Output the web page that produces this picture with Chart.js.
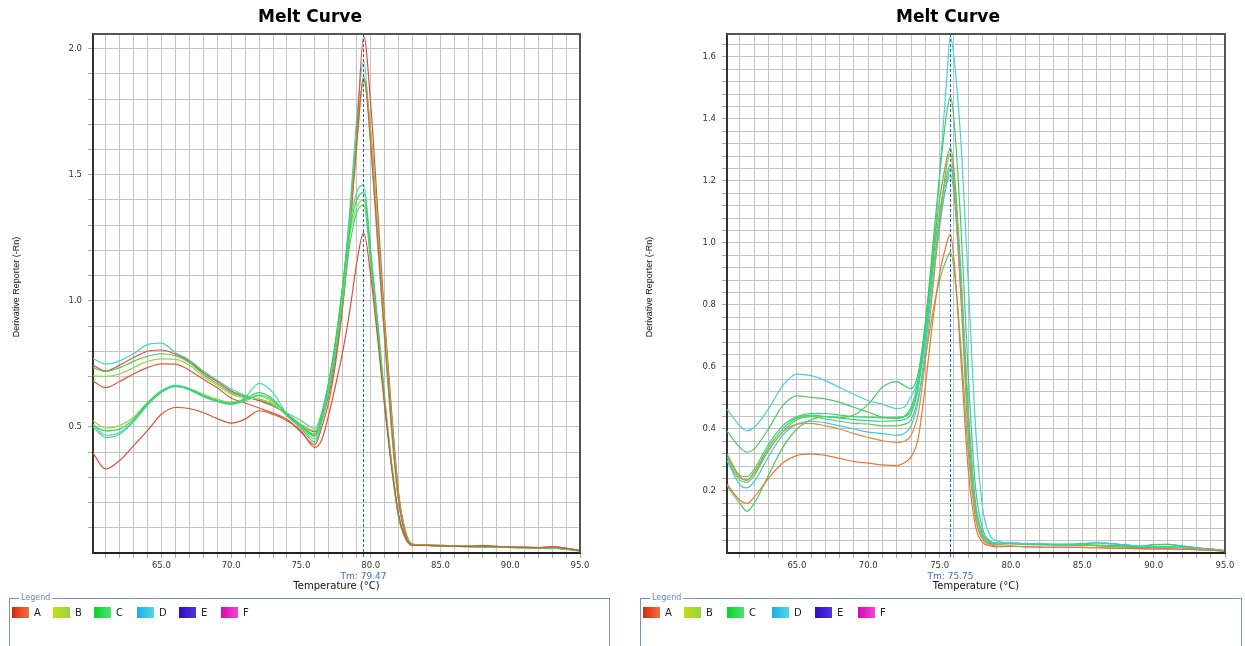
<!DOCTYPE html>
<html><head><meta charset="utf-8">
<script src="https://cdn.jsdelivr.net/npm/chart.js@4"></script>
<style>
html,body{margin:0;padding:0;background:#fff;width:1245px;height:646px;overflow:hidden;font-family:"DejaVu Sans",sans-serif;}
canvas{position:absolute;top:0;}
#cl{left:0;} #cr{left:632px;}
.legend{position:absolute;top:598px;height:70px;border:1px solid #7b93b8;}
.legend .cap{position:absolute;top:-6px;left:9px;background:#fff;padding:0 2px;font-size:8px;color:#6a86b0;line-height:10px;}
.item{position:absolute;top:8px;height:11px;font-size:10px;line-height:11px;color:#222;white-space:nowrap;}
.sw{display:inline-block;width:17px;height:11px;vertical-align:top;margin-right:5px;}
</style></head>
<body>
<canvas id="cl" width="622" height="596"></canvas>
<canvas id="cr" width="613" height="596"></canvas>
<div class="legend" id="lgL" style="left:9px;width:599px;"><span class="cap">Legend</span></div>
<div class="legend" id="lgR" style="left:640px;width:600px;"><span class="cap">Legend</span></div>
<script>
// ---------- DATA ----------
const chartTitle = 'Melt Curve';
const xAxisTitle = 'Temperature (°C)';
const yAxisTitle = 'Derivative Reporter (-Rn)';
const legendLabels = ['A','B','C','D','E','F'];
const xTickLabels = ['65.0','70.0','75.0','80.0','85.0','90.0','95.0'];
const yTickLabelsLeft = ['0.5','1.0','1.5','2.0'];
const yTickLabelsRight = ['0.2','0.4','0.6','0.8','1.0','1.2','1.4','1.6'];
const tmLeft = 79.47, tmRight = 75.75;

const tempsLeft = [60.1,61,62,63,64,65,66,67,68,69,70,71,72,73,74,75,76,76.5,77,77.5,78,78.5,79,79.5,80,80.5,81,81.5,82,82.5,83,84,85,86,87,88,89,90,91,92,93,94,95];

const leftCyan1  = [0.771,0.749,0.762,0.790,0.826,0.832,0.795,0.765,0.722,0.685,0.650,0.625,0.603,0.582,0.555,0.525,0.494,0.56,0.68,0.84,1.06,1.36,1.72,1.95,1.62,1.22,0.84,0.48,0.20,0.070,0.032,0.030,0.029,0.027,0.025,0.024,0.023,0.022,0.021,0.020,0.019,0.016,0.009];
const leftRed1   = [0.745,0.722,0.745,0.775,0.800,0.805,0.788,0.760,0.716,0.680,0.643,0.620,0.605,0.585,0.550,0.510,0.480,0.53,0.63,0.78,0.99,1.29,1.66,2.05,1.78,1.36,0.93,0.56,0.24,0.085,0.035,0.030,0.028,0.027,0.026,0.028,0.026,0.023,0.022,0.021,0.024,0.018,0.010];
const leftGreen1 = [0.735,0.720,0.735,0.760,0.780,0.790,0.782,0.755,0.709,0.672,0.637,0.620,0.610,0.590,0.550,0.505,0.470,0.55,0.67,0.83,1.05,1.33,1.65,1.88,1.68,1.30,0.90,0.54,0.23,0.080,0.035,0.031,0.030,0.028,0.027,0.025,0.024,0.022,0.023,0.021,0.020,0.015,0.008];
const leftYG1    = [0.702,0.700,0.710,0.735,0.760,0.770,0.768,0.745,0.700,0.665,0.630,0.615,0.610,0.590,0.545,0.500,0.462,0.54,0.65,0.81,1.02,1.30,1.62,1.87,1.66,1.28,0.88,0.52,0.22,0.080,0.034,0.030,0.029,0.027,0.025,0.024,0.023,0.022,0.021,0.020,0.019,0.016,0.009];
const leftRed2   = [0.682,0.656,0.680,0.710,0.735,0.750,0.749,0.725,0.689,0.655,0.615,0.595,0.575,0.555,0.530,0.480,0.430,0.50,0.60,0.76,0.98,1.27,1.62,1.89,1.62,1.24,0.86,0.50,0.21,0.075,0.033,0.030,0.028,0.027,0.026,0.028,0.026,0.023,0.022,0.021,0.024,0.018,0.010];
const leftYG2    = [0.524,0.495,0.505,0.538,0.597,0.643,0.663,0.652,0.630,0.610,0.597,0.604,0.623,0.597,0.544,0.511,0.485,0.55,0.67,0.83,1.04,1.26,1.37,1.40,1.17,0.90,0.60,0.35,0.15,0.060,0.030,0.031,0.030,0.028,0.027,0.025,0.024,0.022,0.023,0.021,0.020,0.015,0.008];
const leftCyan2  = [0.511,0.467,0.478,0.524,0.590,0.643,0.665,0.652,0.626,0.604,0.590,0.617,0.673,0.636,0.550,0.498,0.452,0.54,0.67,0.84,1.06,1.30,1.43,1.46,1.20,0.92,0.62,0.36,0.15,0.060,0.030,0.030,0.029,0.027,0.025,0.024,0.023,0.022,0.021,0.020,0.019,0.016,0.009];
const leftGreen2 = [0.505,0.484,0.491,0.531,0.594,0.639,0.660,0.650,0.623,0.604,0.594,0.610,0.636,0.610,0.550,0.504,0.465,0.55,0.68,0.85,1.06,1.28,1.40,1.43,1.19,0.91,0.61,0.35,0.15,0.060,0.030,0.031,0.030,0.028,0.027,0.025,0.024,0.022,0.023,0.021,0.020,0.015,0.008];
const leftTeal2  = [0.500,0.458,0.471,0.520,0.586,0.636,0.663,0.647,0.620,0.600,0.590,0.604,0.626,0.604,0.544,0.494,0.440,0.52,0.64,0.80,1.00,1.22,1.35,1.38,1.15,0.88,0.59,0.34,0.14,0.055,0.030,0.030,0.029,0.027,0.025,0.024,0.023,0.022,0.021,0.020,0.019,0.016,0.009];
const leftRed3   = [0.396,0.333,0.366,0.425,0.485,0.550,0.577,0.573,0.557,0.533,0.515,0.531,0.564,0.550,0.524,0.485,0.419,0.45,0.55,0.67,0.80,0.96,1.15,1.27,1.10,0.85,0.58,0.34,0.15,0.060,0.030,0.030,0.028,0.027,0.026,0.028,0.026,0.023,0.022,0.021,0.024,0.018,0.010];

const tempsRight = [60.1,61,61.5,62,63,64,65,66,67,68,69,70,71,72,72.5,73,73.5,74,74.5,75,75.5,75.75,76,76.5,77,77.5,78,78.5,79,80,81,82,83,84,85,86,87,88,89,90,91,92,93,94,95];

const rightCyan1  = [0.464,0.410,0.394,0.405,0.464,0.540,0.577,0.572,0.556,0.534,0.512,0.491,0.480,0.466,0.470,0.505,0.56,0.68,0.92,1.22,1.53,1.666,1.60,1.32,0.88,0.42,0.15,0.060,0.040,0.032,0.030,0.029,0.028,0.028,0.030,0.033,0.030,0.026,0.022,0.020,0.020,0.018,0.015,0.012,0.007];
const rightGreen1 = [0.394,0.341,0.325,0.335,0.400,0.475,0.507,0.502,0.497,0.486,0.470,0.454,0.438,0.434,0.440,0.47,0.56,0.74,0.98,1.22,1.42,1.473,1.40,1.05,0.58,0.22,0.08,0.040,0.032,0.031,0.029,0.028,0.027,0.026,0.026,0.025,0.024,0.022,0.021,0.027,0.028,0.022,0.017,0.013,0.007];
const rightGreen2 = [0.217,0.160,0.135,0.160,0.250,0.340,0.400,0.430,0.440,0.437,0.445,0.480,0.535,0.553,0.540,0.530,0.58,0.74,0.95,1.14,1.27,1.307,1.24,0.90,0.45,0.16,0.06,0.035,0.030,0.031,0.029,0.028,0.027,0.026,0.026,0.025,0.024,0.022,0.021,0.027,0.028,0.022,0.017,0.013,0.007];
const rightGreen3 = [0.320,0.250,0.246,0.270,0.350,0.410,0.440,0.450,0.450,0.445,0.440,0.438,0.436,0.437,0.440,0.46,0.54,0.72,0.93,1.10,1.22,1.253,1.19,0.86,0.44,0.15,0.06,0.035,0.030,0.030,0.028,0.027,0.026,0.025,0.025,0.024,0.022,0.020,0.018,0.018,0.019,0.017,0.015,0.012,0.006];
const rightTeal1  = [0.310,0.245,0.235,0.260,0.340,0.400,0.435,0.445,0.440,0.435,0.430,0.427,0.425,0.427,0.430,0.45,0.53,0.70,0.90,1.07,1.19,1.220,1.16,0.83,0.42,0.15,0.06,0.035,0.030,0.032,0.030,0.029,0.028,0.028,0.030,0.033,0.030,0.026,0.022,0.020,0.020,0.018,0.015,0.012,0.007];
const rightGreen4 = [0.300,0.235,0.228,0.250,0.330,0.390,0.430,0.440,0.432,0.425,0.418,0.416,0.410,0.411,0.415,0.43,0.50,0.63,0.77,0.88,0.95,0.969,0.92,0.66,0.33,0.12,0.05,0.030,0.028,0.030,0.028,0.027,0.026,0.025,0.025,0.024,0.022,0.020,0.018,0.018,0.019,0.017,0.015,0.012,0.006];
const rightCyan2  = [0.298,0.220,0.210,0.230,0.310,0.380,0.415,0.425,0.420,0.410,0.400,0.390,0.385,0.380,0.385,0.41,0.49,0.66,0.87,1.05,1.20,1.240,1.19,0.88,0.47,0.17,0.065,0.038,0.032,0.032,0.030,0.029,0.028,0.028,0.030,0.033,0.030,0.026,0.022,0.020,0.020,0.018,0.015,0.012,0.007];
const rightOrange1= [0.310,0.245,0.235,0.260,0.330,0.390,0.415,0.418,0.410,0.400,0.385,0.373,0.362,0.357,0.360,0.38,0.45,0.62,0.84,1.07,1.25,1.290,1.20,0.82,0.38,0.12,0.045,0.028,0.022,0.022,0.020,0.019,0.018,0.018,0.018,0.017,0.016,0.015,0.014,0.013,0.013,0.012,0.011,0.009,0.005];
const rightOrange2= [0.222,0.170,0.160,0.180,0.240,0.290,0.315,0.320,0.315,0.305,0.295,0.290,0.284,0.282,0.290,0.31,0.37,0.54,0.74,0.90,1.00,1.028,0.95,0.62,0.27,0.09,0.035,0.024,0.020,0.022,0.020,0.019,0.018,0.018,0.018,0.017,0.016,0.015,0.014,0.013,0.013,0.012,0.011,0.009,0.005];

// ---------- STYLE ----------
const leftSeries = [
  [leftRed3,'#e0502e'],[leftTeal2,'#3cd48a'],[leftGreen2,'#3ccf5a'],[leftCyan2,'#3edca6'],[leftYG2,'#a6d444'],
  [leftRed2,'#e2583a'],[leftYG1,'#9ed24a'],[leftGreen1,'#44cc50'],[leftRed1,'#e4503c'],[leftCyan1,'#40d8c0']
];
const rightSeries = [
  [rightOrange2,'#e8763a'],[rightOrange1,'#e68a3e'],[rightCyan2,'#40c8dc'],[rightGreen4,'#58cc52'],[rightTeal1,'#38d48c'],
  [rightGreen3,'#3ed06c'],[rightGreen2,'#44cc58'],[rightGreen1,'#4cc866'],[rightCyan1,'#44d2dc']
];
const swatchGrad = ['#d42a0c,#f27046','#c6e00c,#96d24e','#0ccf2c,#4ee274','#1aaee6,#52d8ea','#2c0cc0,#5234e2','#d00cac,#f244d6'];

Chart.defaults.font.family = "'DejaVu Sans', sans-serif";
Chart.defaults.color = '#333';

const decor = {
  id: 'decor',
  afterDatasetsDraw(chart, args, o) {
    const {ctx, chartArea: a, scales: {x}} = chart;
    ctx.save();
    // frame top/right
    ctx.strokeStyle = '#555'; ctx.lineWidth = 2;
    ctx.beginPath();
    ctx.moveTo(a.left, a.top); ctx.lineTo(a.right, a.top); ctx.lineTo(a.right, a.bottom);
    ctx.stroke();
    // Tm line
    const px = Math.round(x.getPixelForValue(o.tm)) + 0.5;
    ctx.strokeStyle = '#1f62e0'; ctx.lineWidth = 1; ctx.setLineDash([3,2]);
    ctx.beginPath(); ctx.moveTo(px, a.top); ctx.lineTo(px, a.bottom + 6); ctx.stroke();
    ctx.setLineDash([]);
    ctx.fillStyle = '#3a6cc4'; ctx.font = "9px 'DejaVu Sans'";
    ctx.textAlign = 'center'; ctx.textBaseline = 'middle';
    ctx.fillText('Tm: ' + o.tm.toFixed(2), px, 577);
    // y axis title
    ctx.save();
    ctx.translate(o.yTitleX, 287); ctx.rotate(-Math.PI / 2);
    ctx.fillStyle = '#111'; ctx.font = "9px 'Liberation Sans'";
    ctx.fillText(yAxisTitle, 0, 0);
    ctx.restore();
    // title
    ctx.fillStyle = '#000'; ctx.font = "bold 17px 'DejaVu Sans'";
    ctx.textBaseline = 'alphabetic';
    ctx.fillText(chartTitle, o.titleX, 22);
    ctx.restore();
  }
};

function build(id, temps, series, cfg) {
  const datasets = series.map(([vals, col]) => ({
    data: temps.map((t, i) => ({x: t, y: vals[i]})),
    borderColor: col, borderWidth: 1.2, pointRadius: 0, fill: false,
    cubicInterpolationMode: 'monotone'
  }));
  const grid = {color: '#c4c4c4', lineWidth: 1, tickLength: 5, tickColor: '#aaa', drawTicks: true};
  new Chart(document.getElementById(id), {
    type: 'line',
    data: {datasets},
    options: {
      responsive: false, animation: false, devicePixelRatio: 1,
      layout: {padding: {left: cfg.padL, right: cfg.padR, top: 34, bottom: 0}},
      plugins: {legend: {display: false}, tooltip: {enabled: false}, title: {display: false},
        decor: {tm: cfg.tm, titleX: cfg.titleX, yTitleX: cfg.yTitleX}},
      scales: {
        x: {type: 'linear', min: 60.1, max: 95,
          afterBuildTicks: s => { const t = []; for (let v = 61; v <= 95; v++) t.push({value: v}); s.ticks = t; },
          afterFit: s => { s.height = 43; },
          ticks: {autoSkip: false, maxRotation: 0, padding: 3, font: {size: 8.5}, color: '#333',
            callback: v => { const s = Number(v).toFixed(1); return xTickLabels.includes(s) ? s : ''; }},
          grid, border: {display: true, color: '#222', width: 2},
          title: {display: true, text: xAxisTitle, color: '#111', font: {size: 10}, padding: {top: 0, bottom: 3.5}}
        },
        y: {type: 'linear', min: 0, max: cfg.ymax,
          afterBuildTicks: s => { const t = []; for (let i = 1; i * cfg.ystep <= cfg.ymax; i++) t.push({value: Math.round(i * cfg.ystep * 1000) / 1000}); s.ticks = t; },
          afterFit: s => { s.width = cfg.yw; },
          ticks: {autoSkip: false, padding: 6, font: {size: 8.5}, color: '#333',
            callback: v => { const s = Number(v).toFixed(1); return (cfg.ylabels.includes(s) && Math.abs(Number(v) - Number(s)) < 1e-6) ? s : ''; }},
          grid, border: {display: true, color: '#333', width: 2},
          title: {display: false}
        }
      }
    },
    plugins: [decor]
  });
}

build('cl', tempsLeft, leftSeries, {padL: 10, padR: 42, yw: 83, ymax: 2.058, ystep: 0.1, ylabels: yTickLabelsLeft, tm: tmLeft, titleX: 310, yTitleX: 17});
build('cr', tempsRight, rightSeries, {padL: 11, padR: 20, yw: 84, ymax: 1.674, ystep: 0.04, ylabels: yTickLabelsRight, tm: tmRight, titleX: 316, yTitleX: 18});

function legend(id, lefts) {
  const box = document.getElementById(id);
  legendLabels.forEach((lab, i) => {
    const it = document.createElement('div');
    it.className = 'item'; it.style.left = lefts[i] + 'px';
    const sw = document.createElement('span');
    sw.className = 'sw'; sw.style.background = 'linear-gradient(to right,' + swatchGrad[i] + ')';
    it.appendChild(sw); it.appendChild(document.createTextNode(lab));
    box.appendChild(it);
  });
}
legend('lgL', [2, 43, 84, 127, 169, 211]);
legend('lgR', [2, 43, 86, 131, 174, 217]);
</script>
</body></html>
